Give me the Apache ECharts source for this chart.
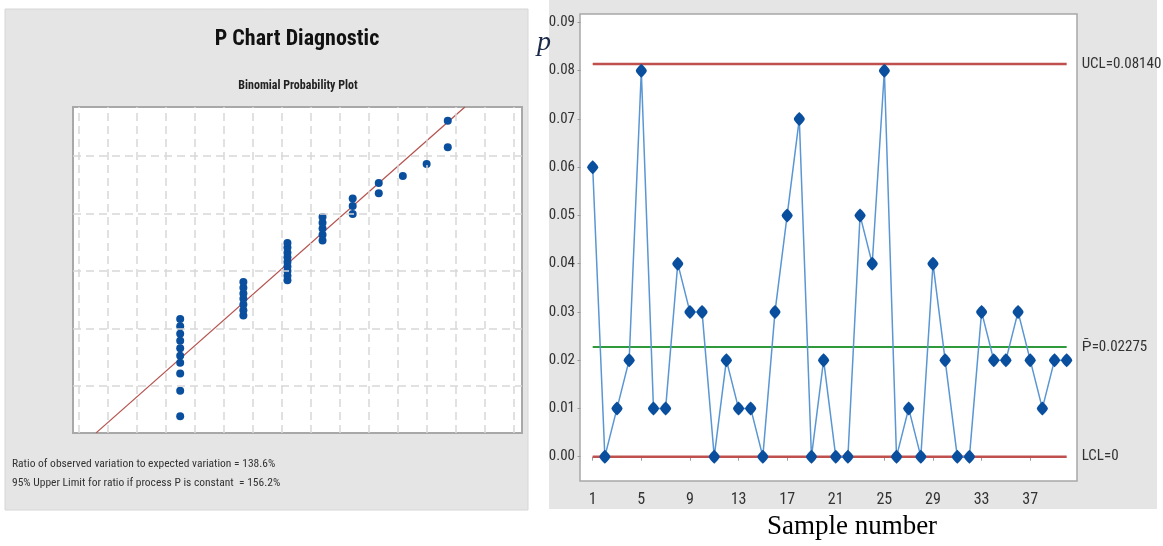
<!DOCTYPE html>
<html>
<head>
<meta charset="utf-8">
<script src="https://cdn.jsdelivr.net/npm/echarts@6/dist/echarts.min.js"></script>
<style>
html,body{margin:0;padding:0;background:#fff;}
#chart{width:1163px;height:546px;}
</style>
</head>
<body>
<div id="chart"></div>
<script>
// ---------- P chart data ----------
var samples = [1,2,3,4,5,6,7,8,9,10,11,12,13,14,15,16,17,18,19,20,21,22,23,24,25,26,27,28,29,30,31,32,33,34,35,36,37,38,39,40];
var proportions = [0.06,0,0.01,0.02,0.08,0.01,0.01,0.04,0.03,0.03,0,0.02,0.01,0.01,0,0.03,0.05,0.07,0,0.02,0,0,0.05,0.04,0.08,0,0.01,0,0.04,0.02,0,0,0.03,0.02,0.02,0.03,0.02,0.01,0.02,0.02];
var ucl = 0.08140;
var pbar = 0.02275;
var lcl = 0;
var xTicks = [1,5,9,13,17,21,25,29,33,37];
var yTicks = [0,0.01,0.02,0.03,0.04,0.05,0.06,0.07,0.08,0.09];

// ---------- Binomial probability plot data (unlabelled plot scores) ----------
var defectCounts = [0,1,2,3,4,5,6,7,8];
var binXScores = [3.49,5.67,7.19,8.40,9.44,10.34,11.17,11.99,12.72];
var binYScores = [
  [-0.52,-0.08,0.22,0.41,0.53,0.66,0.79,0.91,1.04,1.17],
  [1.23,1.32,1.42,1.52,1.61,1.71,1.81],
  [1.84,1.92,2.00,2.08,2.16,2.24,2.32,2.41,2.49],
  [2.53,2.63,2.74,2.84,2.94],
  [2.99,3.13,3.26],
  [3.35,3.53],
  [3.65],
  [3.86],
  [4.15,4.61]
];
var refLineX = [0.59,13.31];
var refLineY = [-0.81,4.85];
var gridXTicks = [0,1,2,3,4,5,6,7,8,9,10,11,12,13,14,15];
var gridYTicks = [0,1,2,3,4];

var ratioText = 'Ratio of observed variation to expected variation = 138.6%';
var limitText = '95% Upper Limit for ratio if process P is constant  = 156.2%';

var NARROW = "'Liberation Sans Narrow','Arial Narrow','Roboto Condensed','Roboto','Liberation Sans',sans-serif";
var ROUND_DIAMOND = 'path://M0,-7 C3.2,-3.6 5,-1.6 5,0 C5,1.6 3.2,3.6 0,7 C-3.2,3.6 -5,1.6 -5,0 C-5,-1.6 -3.2,-3.6 0,-7 Z';

var scatterData = [];
defectCounts.forEach(function(c, i){
  binYScores[i].forEach(function(y){ scatterData.push([binXScores[i], y]); });
});

var chart = echarts.init(document.getElementById('chart'), null, {renderer:'canvas'});

var option = {
  animation: false,
  backgroundColor: '#ffffff',
  graphic: { elements: [
    {type:'rect', z:-100, shape:{x:5,y:9,width:523,height:501}, style:{fill:'#e5e5e5', stroke:'#d6d6d6', lineWidth:1}},
    {type:'rect', z:-100, shape:{x:549,y:0,width:608,height:509}, style:{fill:'#e5e5e5'}},
    {type:'text', z:10, x:297, y:39, style:{text:'P Chart Diagnostic', textAlign:'center', align:'center', textVerticalAlign:'middle', verticalAlign:'middle', fontSize:22, fontWeight:'bold', fontFamily:NARROW, fill:'#111'}},
    {type:'text', z:10, x:298, y:86, style:{text:'Binomial Probability Plot', textAlign:'center', align:'center', textVerticalAlign:'middle', verticalAlign:'middle', fontSize:12, fontWeight:'bold', fontFamily:NARROW, fill:'#222'}},
    {type:'text', z:10, x:12, y:464, style:{text:ratioText, textAlign:'left', align:'left', textVerticalAlign:'middle', verticalAlign:'middle', fontSize:11.5, fontFamily:NARROW, fill:'#333'}},
    {type:'text', z:10, x:12, y:483, style:{text:limitText, textAlign:'left', align:'left', textVerticalAlign:'middle', verticalAlign:'middle', fontSize:11.5, fontFamily:NARROW, fill:'#333'}},
    {type:'text', z:10, x:852, y:527, style:{text:'Sample number', textAlign:'center', align:'center', textVerticalAlign:'middle', verticalAlign:'middle', fontSize:27, fontFamily:"'Liberation Serif','DejaVu Serif',serif", fill:'#000'}},
    {type:'text', z:10, x:544, y:43, style:{text:'p', textAlign:'center', align:'center', textVerticalAlign:'middle', verticalAlign:'middle', fontSize:28, fontStyle:'italic', fontFamily:"'Liberation Serif','DejaVu Serif',serif", fill:'#1b2a4a'}}
  ]},
  grid: [
    {left:73, top:107, width:449, height:326, show:true, backgroundColor:'#fff', borderColor:'#a8a8a8', borderWidth:2},
    {left:580, top:14, width:497, height:467, show:true, backgroundColor:'#fff', borderColor:'#a8a8a8', borderWidth:1.5}
  ],
  xAxis: [
    {gridIndex:0, type:'value', min:-0.207, max:15.28, show:false},
    {gridIndex:1, type:'value', min:-0.045, max:40.85,
     axisLine:{show:false}, splitLine:{show:false},
     axisTick:{show:true, customValues:xTicks, length:4, inside:false, lineStyle:{color:'#9a9a9a'}},
     axisLabel:{show:true, customValues:xTicks, margin:11, fontSize:16, fontFamily:NARROW, color:'#333'}}
  ],
  yAxis: [
    {gridIndex:0, type:'value', min:-0.812, max:4.85, show:false},
    {gridIndex:1, type:'value', min:-0.00504, max:0.09175,
     axisLine:{show:false}, splitLine:{show:false},
     axisTick:{show:true, customValues:yTicks, length:3, lineStyle:{color:'#9a9a9a'}},
     axisLabel:{show:true, customValues:yTicks, margin:5, fontSize:15, fontFamily:NARROW, color:'#333',
       formatter:function(v){return v.toFixed(2);}}}
  ],
  series: [
    {type:'line', xAxisIndex:0, yAxisIndex:0, data:[], silent:true,
     markLine:{silent:true, symbol:['none','none'], animation:false, label:{show:false},
       lineStyle:{color:'#d8d8d8', type:[8,5], width:1.5},
       data: gridXTicks.map(function(v){return {xAxis:v};}).concat(gridYTicks.map(function(v){return {yAxis:v};}))}},
    {type:'line', xAxisIndex:0, yAxisIndex:0, data:[[refLineX[0],refLineY[0]],[refLineX[1],refLineY[1]]],
     symbol:'none', lineStyle:{color:'#b5534f', width:1.3}, z:3, clip:true},
    {type:'scatter', xAxisIndex:0, yAxisIndex:0, data:scatterData, symbol:'circle', symbolSize:8,
     itemStyle:{color:'#0a4f9e', opacity:1}, z:4},

    {type:'line', xAxisIndex:1, yAxisIndex:1, data:[[samples[0],ucl],[samples[samples.length-1],ucl]],
     symbol:'none', lineStyle:{color:'#c0504d', width:2.5}, z:2,
     endLabel:{show:true, formatter:'UCL=' + ucl.toFixed(5), distance:15, fontSize:15, fontFamily:NARROW, color:'#333'}},
    {type:'line', xAxisIndex:1, yAxisIndex:1, data:[[samples[0],pbar],[samples[samples.length-1],pbar]],
     symbol:'none', lineStyle:{color:'#2e9a3c', width:2}, z:2,
     endLabel:{show:true, formatter:'P\u0304=' + pbar.toFixed(5), distance:15, fontSize:15, fontFamily:NARROW, color:'#333'}},
    {type:'line', xAxisIndex:1, yAxisIndex:1, data:[[samples[0],lcl],[samples[samples.length-1],lcl]],
     symbol:'none', lineStyle:{color:'#c0504d', width:2.5}, z:2,
     endLabel:{show:true, formatter:'LCL=' + lcl, distance:15, fontSize:15, fontFamily:NARROW, color:'#333'}},
    {type:'line', xAxisIndex:1, yAxisIndex:1, data:samples.map(function(s,i){return [s, proportions[i]];}),
     symbol:ROUND_DIAMOND, symbolSize:[11,14], itemStyle:{color:'#0a4f9e', opacity:1},
     lineStyle:{color:'#5a96d4', width:1.5}, z:5}
  ]
};
chart.setOption(option);
</script>
</body>
</html>
